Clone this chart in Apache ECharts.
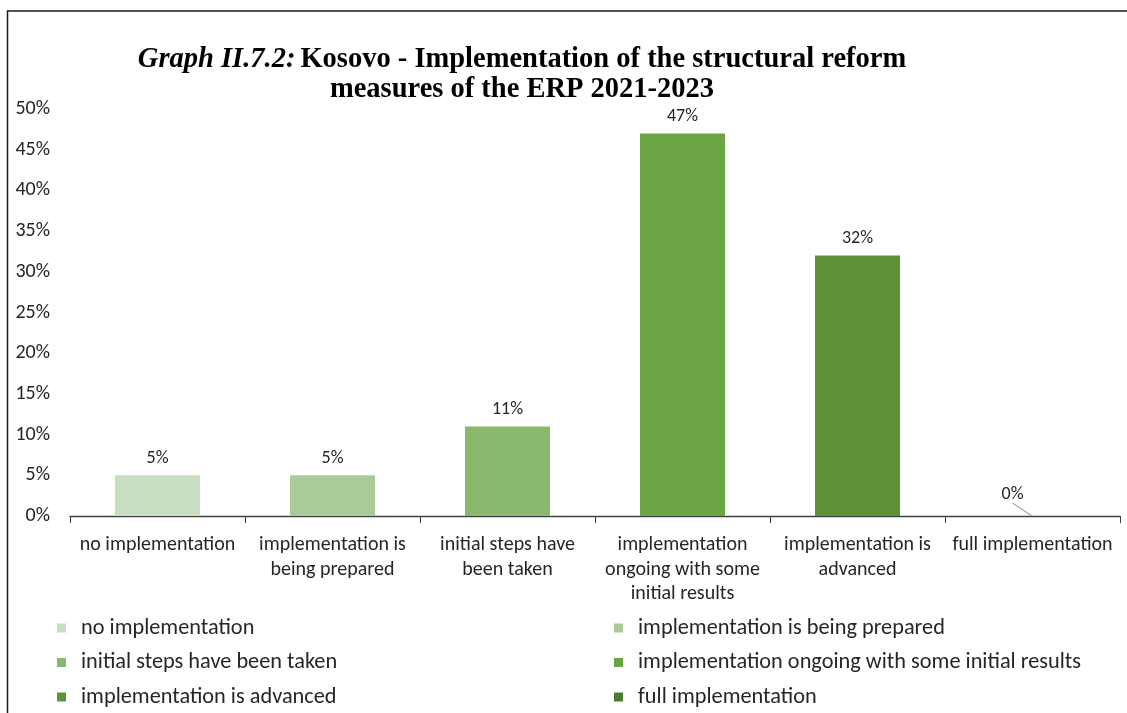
<!DOCTYPE html>
<html>
<head>
<meta charset="utf-8">
<script src="https://cdn.jsdelivr.net/npm/echarts@6/dist/echarts.min.js"></script>
<style>
html,body{margin:0;padding:0;background:#fff;}
#chart{width:1127px;height:713px;}
</style>
</head>
<body>
<div id="chart"></div>
<script>
const categories = [
  'no implementation',
  'implementation is being prepared',
  'initial steps have been taken',
  'implementation ongoing with some initial results',
  'implementation is advanced',
  'full implementation'
];
const axisLabels = [
  'no implementation',
  'implementation is\nbeing prepared',
  'initial steps have\nbeen taken',
  'implementation\nongoing with some\ninitial results',
  'implementation is\nadvanced',
  'full implementation'
];
const values = [5, 5, 11, 47, 32, 0];
const colors = ['#C9DDC0', '#A9CB98', '#8AB96E', '#6BA443', '#5E9239', '#4E7B30'];

const FONT = 'Carlito, Lato, sans-serif';

const labelBase = {
  show: true,
  position: 'top',
  distance: 8,
  formatter: '{c}%',
  fontFamily: FONT,
  fontSize: 18,
  color: '#262626'
};

const series = categories.map((name, i) => {
  const s = {
    name: name,
    type: 'bar',
    itemStyle: { color: colors[i] },
    data: values.map((v, j) => (j === i ? v : '-')),
    label: Object.assign({}, labelBase)
  };
  if (values[i] === 0) {
    // zero bar: own (hidden) axis so it is a thin anchor at the category centre
    s.xAxisIndex = 1;
    s.barWidth = 1;
    s.labelLayout = { dx: -20, dy: -5 };
    s.labelLine = { show: true, lineStyle: { color: '#A6A6A6', width: 1.2 } };
  } else {
    s.stack = 'total';
    s.barWidth = 85;
  }
  return s;
});

const legendText = { fontFamily: FONT, fontSize: 22.3, color: '#262626', lineHeight: 22, padding: [0, 0, 0, 10] };

const chart = echarts.init(document.getElementById('chart'));
chart.setOption({
  animation: false,
  backgroundColor: '#fff',
  graphic: [{
    type: 'rect',
    shape: { x: 7.5, y: 11, width: 1200, height: 800 },
    style: { fill: 'none', stroke: '#1a1a1a', lineWidth: 1.5 },
    z: 100
  }],
  title: {
    left: 522,
    top: 45,
    padding: 0,
    textAlign: 'center',
    text: '{i|Graph II.7.2:} {b|Kosovo - Implementation of the structural reform}\n{b|measures of the ERP 2021-2023}',
    textStyle: {
      rich: {
        i: { fontFamily: '"Liberation Serif", serif', fontStyle: 'italic', fontSize: 28.5, color: '#000', lineHeight: 30 },
        b: { fontFamily: '"Liberation Serif", serif', fontWeight: 'bold', fontSize: 28.5, color: '#000', lineHeight: 30 }
      }
    }
  },
  legend: [
    {
      data: [categories[0], categories[2], categories[4]],
      orient: 'vertical',
      left: 57,
      top: 617,
      padding: 0,
      itemWidth: 9,
      itemHeight: 9,
      itemGap: 12.5,
      icon: 'rect',
      textStyle: legendText
    },
    {
      data: [categories[1], categories[3], categories[5]],
      orient: 'vertical',
      left: 614,
      top: 617,
      padding: 0,
      itemWidth: 9,
      itemHeight: 9,
      itemGap: 12.5,
      icon: 'rect',
      textStyle: legendText
    }
  ],
  grid: { left: 70, right: 7, top: 109, height: 407, containLabel: false },
  xAxis: [
    {
      type: 'category',
      data: categories,
      axisLine: { lineStyle: { color: '#404040', width: 1.3 } },
      axisTick: { show: true, length: 7, lineStyle: { color: '#404040' } },
      axisLabel: {
        interval: 0,
        margin: 17,
        fontFamily: FONT,
        fontSize: 20,
        lineHeight: 24.5,
        color: '#262626',
        formatter: (v, i) => axisLabels[i]
      }
    },
    {
      type: 'category',
      data: categories,
      position: 'bottom',
      show: false
    }
  ],
  yAxis: {
    type: 'value',
    min: 0,
    max: 50,
    interval: 5,
    splitLine: { show: false },
    axisLine: { show: false },
    axisTick: { show: false },
    axisLabel: {
      margin: 20,
      fontFamily: FONT,
      fontSize: 20,
      color: '#262626',
      formatter: '{value}%'
    }
  },
  series: series
});
</script>
</body>
</html>
